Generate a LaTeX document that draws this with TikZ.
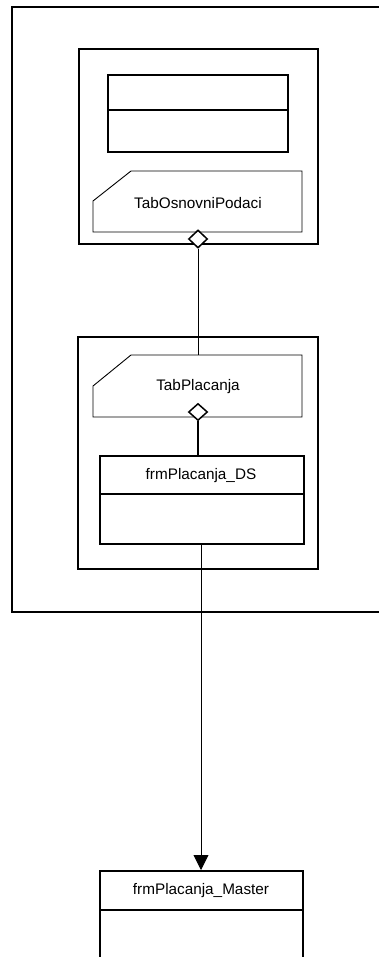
\documentclass[tikz,border=0pt]{standalone}
\usepackage{fontspec}
\setmainfont{Liberation Sans}
\usetikzlibrary{shapes.geometric,arrows.meta}
\begin{document}
\begin{tikzpicture}[x=1pt,y=-1pt,
  box/.style={draw, line width=1.6pt, inner sep=0pt, anchor=north west},
  divline/.style={line width=1.6pt},
  tabshape/.style={draw, line width=0.9pt},
  lbl/.style={inner sep=0pt, font=\fontsize{15.3}{18}\selectfont},
  agg/.style={draw, diamond, fill=white, line width=1.5pt, inner sep=0pt, minimum width=19pt, minimum height=18pt},
  conn/.style={line width=0.9pt},
  strongconn/.style={line width=1.5pt}]
\useasboundingbox (0,0) rectangle (379,957);
\clip (0,0) rectangle (379,957);
% outer frame (open to the right)
\draw[line width=1.6pt] (385,7) -- (12,7) -- (12,612) -- (385,612);
% top container
\node[box, minimum width=239pt, minimum height=195pt] (c1) at (78,48) {};
\node[box, minimum width=180pt, minimum height=77pt] (r1) at (107,74) {};
\draw[divline] (107,110) -- (287,110);
\draw[tabshape] (131,171) -- (302,171) -- (302,232) -- (93,232) -- (93,201) -- cycle;
\node[lbl] (t1) at (198,203) {TabOsnovniPodaci};
% second container
\node[box, minimum width=240pt, minimum height=232pt] (c2) at (77,336) {};
\draw[tabshape] (131,355) -- (302,355) -- (302,417) -- (93,417) -- (93,386) -- cycle;
\node[lbl] (t2) at (198,387) {TabPlacanja};
\coordinate (t2top) at (198,355);
% DS box
\node[box, minimum width=204pt, minimum height=88pt] (ds) at (99,455) {};
\draw[divline] (99,494) -- (303,494);
\node[lbl] (dstxt) at (201,476) {frmPlacanja\_DS};
\coordinate (dsbot) at (201,543);
% Master box
\node[box, minimum width=203pt, minimum height=110pt] (ms) at (99,870) {};
\draw[divline] (99,910) -- (302,910);
\node[lbl] (mstxt) at (201,891) {frmPlacanja\_Master};
\coordinate (mstop) at (201,870);
% connectors
\node[agg] (d1) at (198,239) {};
\draw[conn] (d1.south) -- (t2top);
\node[agg, minimum height=17pt] (d2) at (198,412) {};
\draw[strongconn] (d2.south) -- (ds.north -| d2.south);
\draw[conn, -{Triangle[length=15pt,width=15pt]}] (dsbot) -- (mstop);
\end{tikzpicture}
\end{document}
